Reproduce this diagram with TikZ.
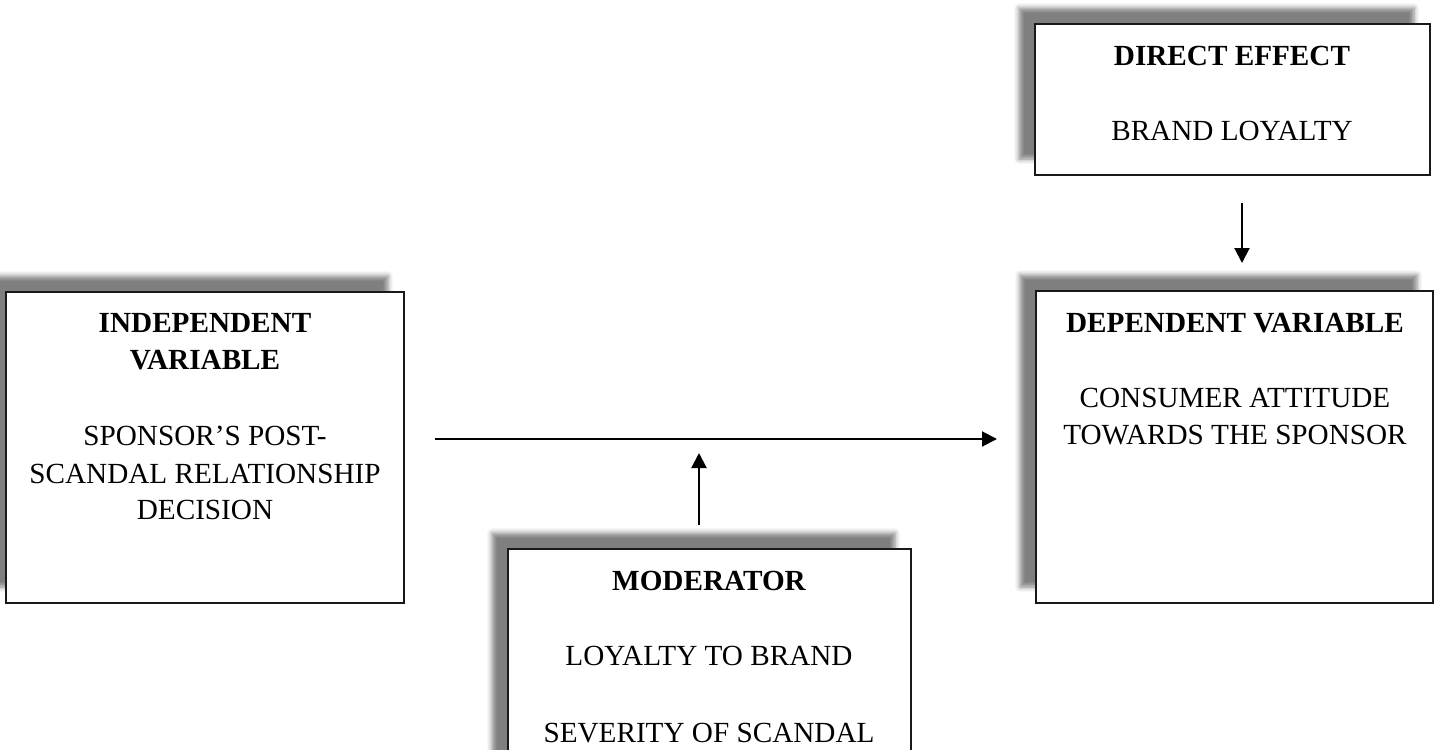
\documentclass[tikz,border=0pt]{standalone}
\usepackage{fontspec}
\setmainfont{Liberation Serif}
\usetikzlibrary{arrows.meta,shadows.blur}
\newcommand{\diafont}{\fontsize{14.6pt}{18.5pt}\selectfont}
\begin{document}
\begin{tikzpicture}[x=0.5pt,y=-0.5pt,
  boxst/.style={draw=black!90, line width=1pt, fill=white, anchor=north west,
    inner sep=0pt, outer sep=0pt,
    blur shadow={shadow xshift=-8pt, shadow yshift=8pt, shadow blur radius=2.5pt, shadow opacity=50}},
  txt/.style={anchor=base, inner sep=0pt, font=\diafont},
  hd/.style={txt, font=\diafont\bfseries},
  arr/.style={line width=1pt, -{Triangle[length=7.5pt,width=7.5pt]}}]
\useasboundingbox (0,0) rectangle (1437,750);
% boxes
\node[boxst, minimum width=199pt, minimum height=155.5pt] (indep) at (6,292) {};
\node[boxst, minimum width=198.5pt, minimum height=156pt] (dep) at (1036,291) {};
\node[boxst, minimum width=197.5pt, minimum height=75.5pt] (direct) at (1035,24) {};
\node[boxst, minimum width=201.5pt, minimum height=113pt] (moder) at (508,549) {};
% independent
\node[hd] (i1) at (205,332) {INDEPENDENT};
\node[hd] (i2) at (205,369) {VARIABLE};
\node[txt] (i3) at (205,445) {SPONSOR’S POST-};
\node[txt] (i4) at (205,483) {SCANDAL RELATIONSHIP};
\node[txt] (i5) at (205,519) {DECISION};
% dependent
\node[hd] (d1) at (1235,332) {DEPENDENT VARIABLE};
\node[txt] (d2) at (1235,407) {CONSUMER ATTITUDE};
\node[txt] (d3) at (1235,444) {TOWARDS THE SPONSOR};
% direct effect
\node[hd] (e1) at (1232,65) {DIRECT EFFECT};
\node[txt] (e2) at (1232,140) {BRAND LOYALTY};
% moderator
\node[hd] (m1) at (709,590) {MODERATOR};
\node[txt] (m2) at (709,665) {LOYALTY TO BRAND};
\node[txt] (m3) at (709,742) {SEVERITY OF SCANDAL};
% connectors
\coordinate (h1) at (435,439);
\coordinate (h2) at (997,439);
\coordinate (u1) at (699,525);
\coordinate (u2) at (699,453);
\coordinate (v1) at (1242,203);
\coordinate (v2) at (1242,263);
\draw[arr] (h1) -- (h2);
\draw[arr] (u1) -- (u2);
\draw[arr] (v1) -- (v2);
\end{tikzpicture}
\end{document}
